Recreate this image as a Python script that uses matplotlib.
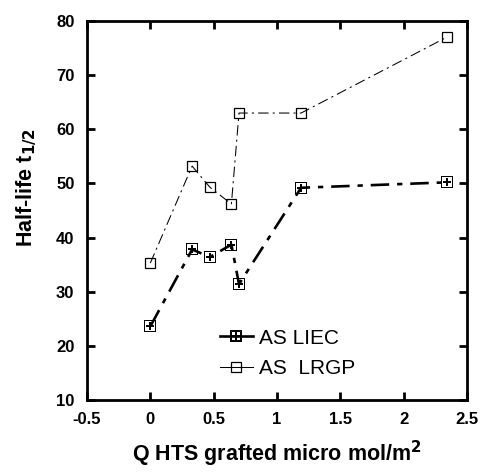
import matplotlib.pyplot as plt
from matplotlib.lines import Line2D

plt.rcParams['font.family'] = ['Liberation Sans', 'DejaVu Sans']

x_vals = [0.0, 0.33, 0.47, 0.64, 0.70, 1.19, 2.34]
liec = [23.6, 37.8, 36.4, 38.7, 31.4, 49.2, 50.2]
lrgp = [35.3, 53.2, 49.3, 46.2, 63.0, 63.0, 77.0]

x_ticks = [-0.5, 0, 0.5, 1, 1.5, 2, 2.5]
x_ticklabels = ['-0.5', '0', '0.5', '1', '1.5', '2', '2.5']
y_ticks = [10, 20, 30, 40, 50, 60, 70, 80]

fig = plt.figure(figsize=(4.8, 4.72), dpi=100)
ax = fig.add_axes([87 / 480, 72 / 472, 380 / 480, 379 / 472])

ax.plot(x_vals, liec, color='black', lw=1.9, dashes=(7, 3, 2, 3),
        marker=r'$\boxplus$', markersize=9, markeredgewidth=0)
ax.plot(x_vals, lrgp, color='black', lw=0.75, dashes=(10, 4, 2, 4),
        marker='s', markersize=7.5, markerfacecolor='none', markeredgewidth=0.9)

ax.set_xlim(-0.5, 2.5)
ax.set_ylim(10, 80)
ax.set_xticks(x_ticks)
ax.set_xticklabels(x_ticklabels)
ax.set_yticks(y_ticks)
ax.tick_params(direction='in', length=6, width=2, top=True, right=True,
               labelsize=12, pad=9)
for lbl in ax.get_xticklabels() + ax.get_yticklabels():
    lbl.set_fontweight('bold')
for s in ax.spines.values():
    s.set_linewidth(2)

ax.set_xlabel(r'Q HTS grafted micro mol/m$^\mathbf{2}$', fontsize=15.5,
              fontweight='bold', labelpad=8)
ax.set_ylabel(r'Half-life t$_\mathbf{1/2}$', fontsize=15.5, fontweight='bold')
ax.yaxis.set_label_coords(-0.125, 0.56)

handles = [
    Line2D([], [], color='black', lw=1.9, marker=r'$\boxplus$',
           markersize=8, markeredgewidth=0),
    Line2D([], [], color='black', lw=0.75, marker='s', markersize=6.5,
           markerfacecolor='none', markeredgewidth=0.9),
]
ax.legend(handles, ['AS LIEC', 'AS  LRGP'], loc='lower left',
          bbox_to_anchor=(0.30, 0.008), frameon=False, fontsize=15,
          handlelength=1.6, handletextpad=0.3, labelspacing=0.55)

fig.savefig('out.png', dpi=100)
